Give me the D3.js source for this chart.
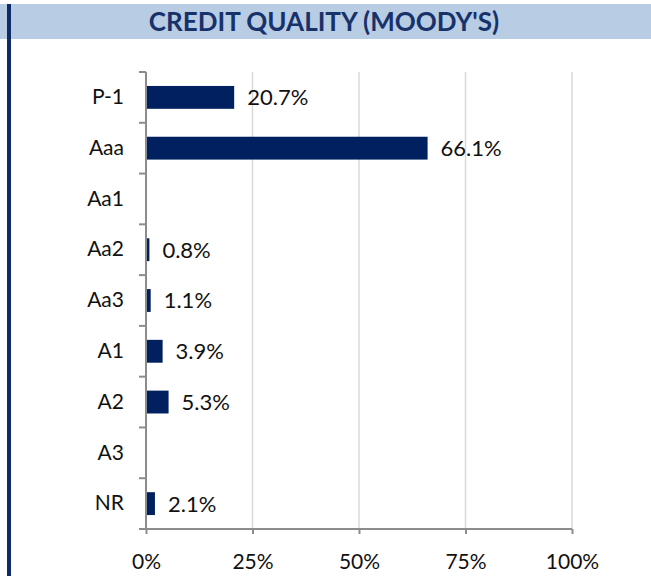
<!DOCTYPE html>
<html>
<head>
<meta charset="utf-8">
<script src="https://cdn.jsdelivr.net/npm/d3@7"></script>
<style>
  body { margin: 0; background: #fff; }
  svg text { font-family: Lato, "Open Sans", sans-serif; }
  .grid line { stroke: #d9d9d9; stroke-width: 1.5; }
  .axis path, .axis line { stroke: #8c8c8c; stroke-width: 2; }
</style>
</head>
<body>
<div id="chart"></div>
<script>
// chart data
var categories = ["P-1", "Aaa", "Aa1", "Aa2", "Aa3", "A1", "A2", "A3", "NR"];
var values = [20.7, 66.1, null, 0.8, 1.1, 3.9, 5.3, null, 2.1];
var xTicks = [0, 25, 50, 75, 100];
var title = "CREDIT QUALITY (MOODY'S)";

var width = 651, height = 576;
var margin = { top: 72, right: 79, bottom: 47, left: 146 };
var innerW = width - margin.left - margin.right;
var innerH = height - margin.top - margin.bottom;

var svg = d3.select("#chart").append("svg")
    .attr("width", width)
    .attr("height", height);

// title band + left rule
svg.append("rect")
    .attr("x", 0).attr("y", 4)
    .attr("width", width).attr("height", 35)
    .attr("fill", "#b8cce4");

svg.append("rect")
    .attr("x", 7).attr("y", 4)
    .attr("width", 4).attr("height", height - 4)
    .attr("fill", "#0f2b66");

svg.append("text")
    .attr("x", 324).attr("y", 31)
    .attr("text-anchor", "middle")
    .attr("font-size", 26)
    .attr("font-weight", "bold")
    .attr("fill", "#17326b")
    .text(title);

var g = svg.append("g")
    .attr("transform", "translate(" + margin.left + "," + margin.top + ")");

// scales
var x = d3.scaleLinear().domain([0, 100]).range([0, innerW]);

var yOuter = d3.scaleBand().domain(categories).range([0, innerH]).padding(0);
var y = d3.scaleBand().domain(categories).range([0, innerH])
    .paddingInner(0.55).paddingOuter(0.275);

// gridlines
g.append("g")
    .attr("class", "grid")
    .selectAll("line")
    .data(xTicks.slice(1))
    .enter().append("line")
    .attr("x1", function(d) { return x(d); })
    .attr("x2", function(d) { return x(d); })
    .attr("y1", 0)
    .attr("y2", innerH);

// bars
var rows = categories.map(function(c, i) { return { cat: c, val: values[i] }; })
    .filter(function(d) { return d.val !== null; });

g.selectAll(".bar")
    .data(rows)
    .enter().append("rect")
    .attr("class", "bar")
    .attr("x", 0)
    .attr("y", function(d) { return y(d.cat); })
    .attr("width", function(d) { return x(d.val); })
    .attr("height", y.bandwidth())
    .attr("fill", "#002060");

g.selectAll(".val")
    .data(rows)
    .enter().append("text")
    .attr("class", "val")
    .attr("x", function(d) { return x(d.val) + 13; })
    .attr("y", function(d) { return y(d.cat) + y.bandwidth() / 2; })
    .attr("dy", "0.36em")
    .attr("font-size", 22)
    .attr("fill", "#111")
    .text(function(d) { return d.val.toFixed(1) + "%"; });

// x axis
var xAxis = d3.axisBottom(x)
    .tickValues(xTicks)
    .tickSize(5)
    .tickSizeOuter(0)
    .tickPadding(20)
    .tickFormat(function(d) { return d + "%"; });

var xg = g.append("g")
    .attr("class", "axis x-axis")
    .attr("transform", "translate(0," + innerH + ")")
    .call(xAxis);
xg.select(".domain").attr("d", "M-7,0H" + innerW);
xg.selectAll("text").attr("font-size", 21).attr("fill", "#111")
    .style("font-family", "Lato, sans-serif");

// y axis (labels centred in bands, ticks at band edges)
var yAxis = d3.axisLeft(yOuter).tickSize(0).tickPadding(22);
var yg = g.append("g")
    .attr("class", "axis y-axis")
    .call(yAxis);
yg.select(".domain").attr("d", "M0,0V" + innerH);
yg.selectAll("text").attr("font-size", 21).attr("fill", "#111")
    .style("font-family", "Lato, sans-serif");

yg.selectAll(".edge")
    .data(categories)
    .enter().append("line")
    .attr("class", "edge")
    .attr("x1", -7).attr("x2", 0)
    .attr("y1", function(d) { return yOuter(d); })
    .attr("y2", function(d) { return yOuter(d); });
</script>
</body>
</html>
